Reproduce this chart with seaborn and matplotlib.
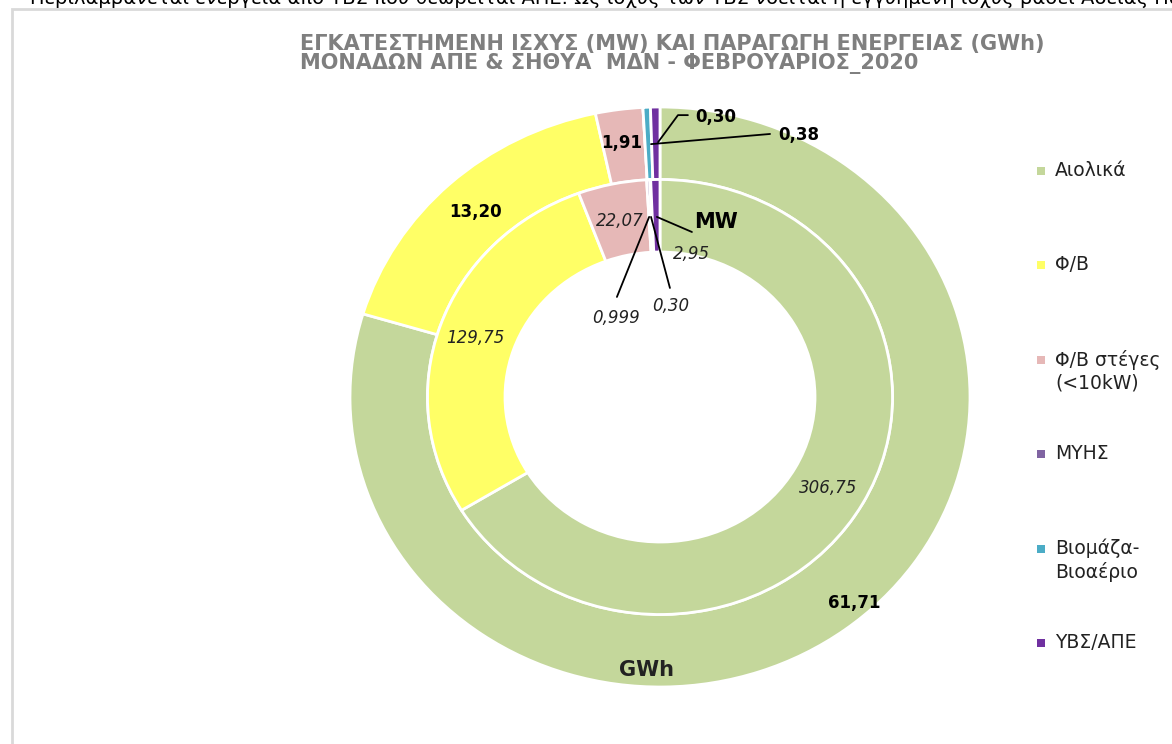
import matplotlib
matplotlib.use("Agg")
import matplotlib.pyplot as plt
import seaborn as sns
from matplotlib.patches import Rectangle

# Data
categories = ["Αιολικά", "Φ/Β", "Φ/Β στέγες\n(<10kW)", "ΜΥΗΣ", "Βιομάζα-\nΒιοαέριο", "ΥΒΣ/ΑΠΕ"]
energy_gwh = [61.71, 13.20, 1.91, 0.0, 0.30, 0.38]
capacity_mw = [306.75, 129.75, 22.07, 0.999, 0.30, 2.95]
colors = ["#C4D79B", "#FFFF66", "#E6B8B7", "#8064A2", "#4BACC6", "#7030A0"]

title = ("ΕΓΚΑΤΕΣΤΗΜΕΝΗ ΙΣΧΥΣ (MW) ΚΑΙ ΠΑΡΑΓΩΓΗ ΕΝΕΡΓΕΙΑΣ (GWh)\n"
         "ΜΟΝΑΔΩΝ ΑΠΕ & ΣΗΘΥΑ  ΜΔΝ - ΦΕΒΡΟΥΑΡΙΟΣ_2020")
note = ("Περιλαμβάνεται ενέργεια από ΥΒΣ που θεωρείται ΑΠΕ. Ως ισχύς των ΥΒΣ "
        "νοείται η εγγυημένη ισχύς βάσει Άδειας Παραγωγής.")


def fmt(v):
    s = f"{v:.3f}" if round(v, 2) != v else f"{v:.2f}"
    return s.replace(".", ",")


sns.set_theme(style="white")
plt.rcParams["font.family"] = ["DejaVu Sans"]
palette = sns.color_palette(colors)

W, H = 1172, 744
fig = plt.figure(figsize=(W / 100, H / 100), dpi=100)

# chart frame + note line above it (cut by the page edge, as in the source)
fig.patches.append(Rectangle((12 / W, -0.1), 1.2, (H - 9) / H + 0.1, transform=fig.transFigure,
                             fill=False, edgecolor="#d9d9d9", linewidth=2))
fig.text(30 / W, 1 - 4 / H, note, fontsize=14, color="black", va="baseline", ha="left")

# pie axes: centre (660, 397), rx 310, ry 290 px
cx, cy, rx, ry = 660, 397, 310, 290
ax = fig.add_axes([(cx - rx) / W, (H - cy - ry) / H, 2 * rx / W, 2 * ry / H])

wp = dict(width=0.25, edgecolor="white", linewidth=2)
ax.pie(energy_gwh, radius=1.0, colors=palette, startangle=90, counterclock=False, wedgeprops=wp)
ax.pie(capacity_mw, radius=0.75, colors=palette, startangle=90, counterclock=False, wedgeprops=wp)
ax.set_aspect("auto")
ax.set_xlim(-1, 1)
ax.set_ylim(-1, 1)

# outer ring labels (GWh)
outer_pos = [(0.626, -0.710, "center"), (-0.594, 0.638, "center"), (-0.123, 0.876, "center"),
             None, (0.113, 0.966, "left"), (0.381, 0.903, "left")]
for v, p in zip(energy_gwh, outer_pos):
    if p is None:
        continue
    ax.text(p[0], p[1], fmt(v), ha=p[2], va="center", fontsize=12, fontweight="bold", color="black")

# inner ring labels (MW)
inner_pos = [(0.542, -0.314), (-0.597, 0.203), (-0.129, 0.607), (-0.142, 0.272), (0.035, 0.314), (0.103, 0.493)]
for v, p in zip(capacity_mw, inner_pos):
    ax.text(p[0], p[1], fmt(v), ha="center", va="center", fontsize=12, fontstyle="italic", color="#222222")

# leader lines
leaders = [
    [(-0.035, 0.621), (-0.139, 0.345)],
    [(-0.029, 0.621), (0.032, 0.376)],
    [(-0.010, 0.621), (0.103, 0.569)],
    [(-0.006, 0.879), (0.058, 0.972), (0.090, 0.972)],
    [(-0.029, 0.872), (0.355, 0.907)],
]
for pts in leaders:
    xs, ys = zip(*pts)
    ax.plot(xs, ys, color="black", linewidth=1.3, clip_on=False)

ax.text(0.110, 0.603, "MW", ha="left", va="center", fontsize=15, fontweight="bold", color="black")
ax.text(-0.045, -0.941, "GWh", ha="center", va="center", fontsize=15, fontweight="bold", color="#222222")

fig.text(300 / W, 1 - 34 / H, title, ha="left", va="top", fontsize=15, fontweight="bold",
         color="#7f7f7f", linespacing=0.95)

# legend: square marker level with the first line of each label
for i, (lab, c) in enumerate(zip(categories, palette)):
    y = 171 + 94.4 * i
    fig.patches.append(Rectangle((1037 / W, 1 - (y + 4) / H), 8 / W, 8 / H, transform=fig.transFigure,
                                 facecolor=c, edgecolor="none"))
    fig.text(1055 / W, 1 - (y - 10) / H, lab, ha="left", va="top", fontsize=13.5,
             color="#222222", linespacing=1.25)

fig.savefig("out.png", dpi=100)
